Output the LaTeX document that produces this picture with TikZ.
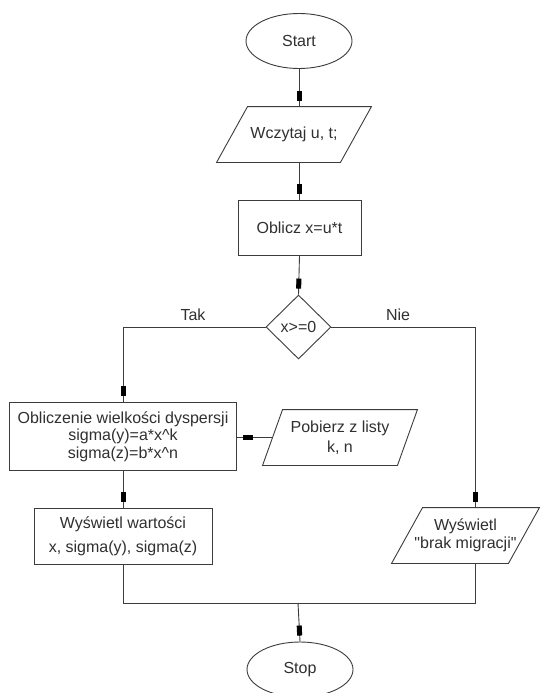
\documentclass[tikz,border=0pt]{standalone}
\usepackage{fontspec}
\setmainfont{Liberation Sans}[Ligatures=TeXOff]
\usetikzlibrary{shapes.geometric,arrows.meta,decorations.markings}
\definecolor{ink}{HTML}{303030}
\definecolor{edgec}{HTML}{3C3C3C}
\newcommand\paragram[2]{\draw[draw=edgec] ([xshift=#2pt]#1.north west) -- ([xshift=#2pt]#1.north east) -- ([xshift=-#2pt]#1.south east) -- ([xshift=-#2pt]#1.south west) -- cycle;}
\begin{document}
\begin{tikzpicture}[x=1pt,y=-1pt,line width=0.9pt,
  base/.style={text=ink,font=\fontsize{16}{19}\selectfont,align=center,inner sep=0pt},
  term/.style={base,ellipse,draw=edgec,minimum width=106pt,minimum height=55pt},
  proc/.style={base,rectangle,draw=edgec,minimum height=55pt},
  io/.style={base,rectangle,minimum height=55pt},
  decision/.style={base,diamond,draw=edgec,minimum width=65pt,minimum height=64pt},
  lbl/.style={base},
  flow/.style={draw=edgec,postaction={decorate},decoration={markings,mark=at position -6pt with {\arrow[black]{Rectangle[length=10pt,width=5pt]}}}},
  link/.style={draw=edgec}]
\fill[white] (0,0) rectangle (539,693);
\useasboundingbox (0,0) rectangle (539,693);

\node[term] (start) at (299,41) {Start};
\node[io,minimum width=123pt] (in1) at (294,134.5) {Wczytaj u, t;};
\paragram{in1}{15.5}
\node[proc,minimum width=123pt] (rect1) at (299.5,227.5) {Oblicz x=u*t};
\node[decision] (dia) at (298.5,327) {x>=0};
\node[lbl] (tak) at (193,315) {Tak};
\node[lbl] (nie) at (398,315) {Nie};
\node[proc,minimum width=227pt,minimum height=68pt,font=\fontsize{16}{17.5}\selectfont] (box2) at (123,436.5) {Obliczenie wielkości dyspersji\\sigma(y)=a*x\textasciicircum k\\sigma(z)=b*x\textasciicircum n};
\node[io,minimum width=134pt,font=\fontsize{16}{20}\selectfont] (pob) at (340,437.5) {Pobierz z listy\\k, n};
\paragram{pob}{10}
\node[proc,minimum width=178pt,minimum height=56pt,font=\fontsize{16}{24}\selectfont] (box3) at (123,536) {Wyświetl wartości\\x, sigma(y), sigma(z)};
\node[io,minimum width=116pt,font=\fontsize{16}{18.5}\selectfont] (out2) at (465.5,535.5) {Wyświetl\\"brak migracji"};
\paragram{out2}{15.5}
\node[term] (stop) at (300,669.5) {Stop};

\coordinate (rc) at (475,327);
\coordinate (mj) at (298,603);

\draw[flow] (start.south) -- (start.south |- in1.north);
\draw[flow] (rect1.north |- in1.south) -- (rect1.north);
\draw[flow] (rect1.south) -- (dia.north);
\draw[flow] (dia.west) -| (box2.north);
\draw[flow] (pob.west) -- (pob.west -| box2.east);
\draw[flow] (box2.south) -- (box3.north);
\draw[flow] (dia.east) -- (rc) -- (rc |- out2.north);
\draw[link] (box3.south) |- (mj);
\draw[link] (rc |- out2.south) |- (mj);
\draw[flow] (mj) -- (stop.north);
\end{tikzpicture}
\end{document}
